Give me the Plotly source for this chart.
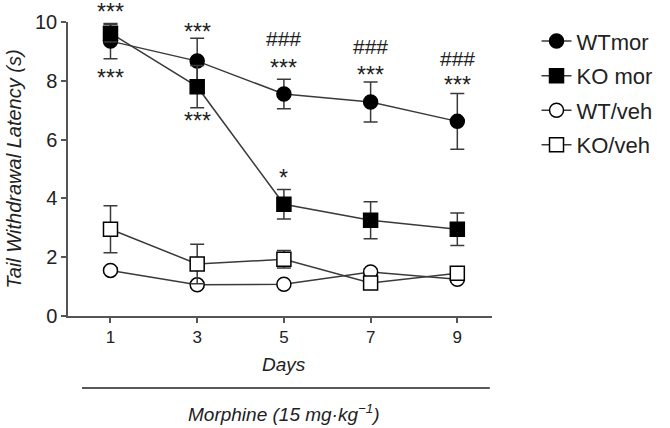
import plotly.graph_objects as go

days = [1, 3, 5, 7, 9]
wt_mor = [9.35, 8.67, 7.55, 7.28, 6.62]
wt_mor_err = [0.6, 0.78, 0.5, 0.68, 0.95]
ko_mor = [9.62, 7.8, 3.8, 3.26, 2.95]
ko_mor_err = [0.3, 0.72, 0.5, 0.63, 0.55]
wt_veh = [1.55, 1.06, 1.08, 1.5, 1.25]
wt_veh_err = [0.1, 0.08, 0.08, 0.1, 0.1]
ko_veh = [2.95, 1.77, 1.93, 1.12, 1.45]
ko_veh_err = [0.8, 0.67, 0.3, 0.15, 0.15]

# significance labels (day, latency level, text)
sig_days = [1, 1, 3, 3, 5, 5, 5, 7, 7, 9, 9]
sig_y = [10.33, 8.1, 9.65, 6.63, 9.45, 8.43, 4.7, 9.15, 8.2, 8.75, 7.85]
sig_text = ["***", "***", "***", "***", "###", "***", "*", "###", "***", "###", "***"]

Y_MAX = 10
LINE = "#3a3a3a"
fig = go.Figure()

def add(name, y, err, symbol, fill, group):
    fig.add_trace(go.Scatter(
        x=days, y=y, name=name, mode="lines+markers", legendgroup=group,
        line=dict(color=LINE, width=1.5),
        marker=dict(symbol=symbol, size=14, color=fill,
                    line=dict(color="black", width=1.5)),
        error_y=dict(type="data", array=err, visible=True, color=LINE,
                     thickness=1.5, width=7),
        cliponaxis=False,
    ))

add("WTmor", wt_mor, wt_mor_err, "circle", "black", "a")
add("KO mor", ko_mor, ko_mor_err, "square", "black", "b")
add("WT/veh", wt_veh, wt_veh_err, "circle", "white", "c")
add("KO/veh", ko_veh, ko_veh_err, "square", "white", "d")

for d, yv, t in zip(sig_days, sig_y, sig_text):
    fig.add_annotation(x=d, y=yv / Y_MAX, text=t, showarrow=False, xref="x",
                       yref="paper", yanchor="middle",
                       font=dict(size=21 if t.startswith("#") else 23,
                                 color="#222", family="Liberation Sans, Arial"))

fig.add_annotation(x=5, y=-0.165, xref="x", yref="paper", text="<i>Days</i>",
                   showarrow=False, yanchor="middle",
                   font=dict(size=19, color="#222"))
fig.add_shape(type="line", xref="paper", yref="paper", x0=0.033, x1=0.995,
              y0=-0.245, y1=-0.245, line=dict(color="#222", width=1.5))
fig.add_annotation(x=5, y=-0.33, xref="x", yref="paper",
                   text="<i>Morphine (15 mg·kg<sup>−1</sup>)</i>",
                   showarrow=False, yanchor="middle",
                   font=dict(size=19, color="#222"))

fig.update_layout(
    width=670, height=428,
    margin=dict(l=68, r=172, t=22, b=112),
    paper_bgcolor="white", plot_bgcolor="white",
    font=dict(family="Liberation Sans, Arial", size=15, color="#222"),
    showlegend=True,
    legend=dict(x=1.105, y=1.006, xanchor="left", yanchor="top",
                font=dict(size=22, color="#222"), tracegroupgap=3,
                bgcolor="rgba(0,0,0,0)"),
    xaxis=dict(range=[0.02, 9.8], tickvals=days, ticks="outside", ticklen=5,
               tickwidth=1.5, tickcolor="#555", showline=True,
               linecolor="#555", linewidth=1.5, showgrid=False, zeroline=False,
               tickfont=dict(size=17), automargin=False),
    yaxis=dict(range=[0, Y_MAX], tickvals=[0, 2, 4, 6, 8, 10], ticks="outside",
               ticklen=5, tickwidth=1.5, tickcolor="#555", showline=True,
               linecolor="#555", linewidth=1.5, showgrid=False, zeroline=False,
               tickfont=dict(size=20), automargin=False,
               title=dict(text="<i>Tail Withdrawal Latency (s)</i>",
                          font=dict(size=20), standoff=8)),
)

fig.write_html("out.html", config={"displayModeBar": False},
               post_script="document.body.style.margin='0';")
